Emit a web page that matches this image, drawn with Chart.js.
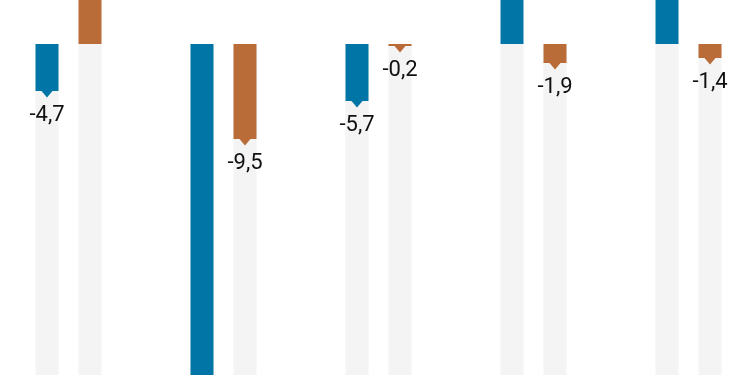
<!DOCTYPE html>
<html>
<head>
<meta charset="utf-8">
<script src="https://cdn.jsdelivr.net/npm/chart.js@4"></script>
<style>
  html, body { margin: 0; padding: 0; background: #fff; overflow: hidden; width: 750px; height: 375px; }
  #wrap { position: absolute; left: -9.5px; top: 0; width: 775px; height: 375px; }
</style>
</head>
<body>
<div id="wrap"><canvas id="chart" width="775" height="375"></canvas></div>
<script>
// data
const categories = ['A', 'B', 'C', 'D', 'E'];
const blueValues = [-4.7, -36.0, -5.7, 7.5, 6.2];
const orangeValues = [5.1, -9.5, -0.2, -1.9, -1.4];
const yMin = -33.1;
const yMax = 4.4;

const blue = '#0075a6';
const orange = '#b96b38';
const track = '#f4f4f4';

// grey track behind each bar, from zero down to the bottom of the axis
const trackValues = categories.map(() => yMin - 10);

function fmt(v) {
    return v.toFixed(1).replace('.', ',');
}

// little pointer triangle + value under the end of each negative bar
const labelPlugin = {
    id: 'barLabels',
    afterDatasetsDraw(chart) {
        const ctx = chart.ctx;
        const area = chart.chartArea;
        ctx.save();
        ctx.beginPath();
        ctx.rect(area.left, area.top, area.right - area.left, area.bottom - area.top);
        ctx.clip();
        chart.data.datasets.forEach((ds, i) => {
            if (!ds.isValue) return;
            const meta = chart.getDatasetMeta(i);
            meta.data.forEach((bar, j) => {
                const v = ds.data[j];
                if (v >= 0) return;
                const yEnd = bar.y;
                ctx.fillStyle = ds.backgroundColor;
                ctx.beginPath();
                ctx.moveTo(bar.x - 5.5, yEnd);
                ctx.lineTo(bar.x + 5.5, yEnd);
                ctx.lineTo(bar.x, yEnd + 6.5);
                ctx.closePath();
                ctx.fill();
                ctx.fillStyle = '#111';
                ctx.font = '22px Roboto, "Liberation Sans", sans-serif';
                ctx.textAlign = 'center';
                ctx.textBaseline = 'alphabetic';
                ctx.fillText(fmt(v), bar.x, yEnd + 30);
            });
        });
        ctx.restore();
    }
};

new Chart(document.getElementById('chart').getContext('2d'), {
    type: 'bar',
    data: {
        labels: categories,
        datasets: [
            { data: blueValues, backgroundColor: blue, stack: 'blue', order: 1, isValue: true },
            { data: orangeValues, backgroundColor: orange, stack: 'orange', order: 1, isValue: true },
            { data: trackValues, backgroundColor: track, stack: 'blue', order: 2 },
            { data: trackValues, backgroundColor: track, stack: 'orange', order: 2 }
        ]
    },
    options: {
        responsive: false,
        animation: false,
        events: [],
        layout: { padding: 0 },
        datasets: {
            bar: {
                categoryPercentage: 86 / 155,
                barPercentage: 23 / 43,
                borderWidth: 0
            }
        },
        scales: {
            x: { display: false, stacked: true, offset: true },
            y: { display: false, stacked: false, min: yMin, max: yMax }
        },
        plugins: {
            legend: { display: false },
            tooltip: { enabled: false }
        }
    },
    plugins: [labelPlugin]
});
</script>
</body>
</html>
